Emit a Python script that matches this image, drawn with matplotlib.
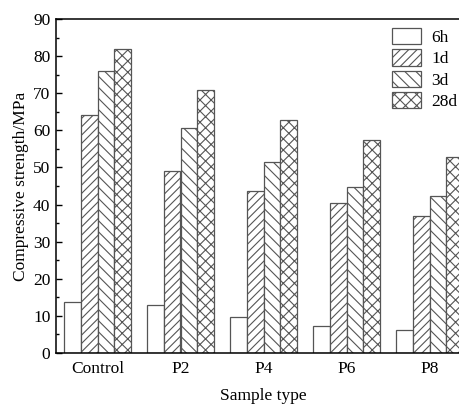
import numpy as np
import matplotlib
matplotlib.use('Agg')
import matplotlib.pyplot as plt
from matplotlib.ticker import MultipleLocator

plt.rcParams['font.family'] = ['Liberation Serif', 'DejaVu Serif']
plt.rcParams['hatch.linewidth'] = 0.8
plt.rcParams['hatch.color'] = '#606060'

samples = ['Control', 'P2', 'P4', 'P6', 'P8']
ages = ['6h', '1d', '3d', '28d']
s_6h = [13.8, 12.8, 9.6, 7.3, 6.1]
s_1d = [64.0, 49.1, 43.6, 40.3, 36.9]
s_3d = [76.0, 60.6, 51.5, 44.7, 42.3]
s_28d = [81.8, 70.9, 62.7, 57.3, 52.8]

fs = 12.5

fig = plt.figure(figsize=(4.6, 4.05), dpi=100)
# axes runs past the right edge like the original crop
ax1 = fig.add_axes([56 / 460, 52 / 405, 415 / 460, 334 / 405])

x = np.arange(len(samples))
data = [s_6h, s_1d, s_3d, s_28d]
hatches = ['', '////', '\\\\\\', 'xxx']
w = 0.2
for i, h in enumerate(data):
    pos = x - 0.3 + i * w
    ax1.bar(pos, h, width=w, facecolor='white', edgecolor='#555555',
            linewidth=0.9, hatch=hatches[i], label=ages[i])

ax1.set_xlim(-0.5, 4.5)
ax1.set_ylim(0, 90)
ax1.set_xticks(x)
ax1.set_xticklabels(samples, fontsize=fs)
ax1.tick_params(axis='x', length=0, pad=6)
ax1.yaxis.set_major_locator(MultipleLocator(10))
ax1.yaxis.set_minor_locator(MultipleLocator(5))
ax1.tick_params(axis='y', which='major', direction='in', length=4, width=1, labelsize=fs, pad=4)
ax1.tick_params(axis='y', which='minor', direction='in', length=2.2, width=1)
for sp in ['left', 'top', 'bottom', 'right']:
    ax1.spines[sp].set_linewidth(1.1)

ax1.set_xlabel('Sample type', fontsize=fs, labelpad=8)
ax1.set_ylabel('Compressive strength/MPa', fontsize=fs, labelpad=3)

ax1.legend(loc='upper left', bbox_to_anchor=(392 / 460, 1 - 28 / 405),
           bbox_transform=fig.transFigure, frameon=False, fontsize=fs,
           borderpad=0, borderaxespad=0, handlelength=1.65, handleheight=1.05,
           labelspacing=0.2, handletextpad=0.6)

fig.savefig('out.png', dpi=100)
